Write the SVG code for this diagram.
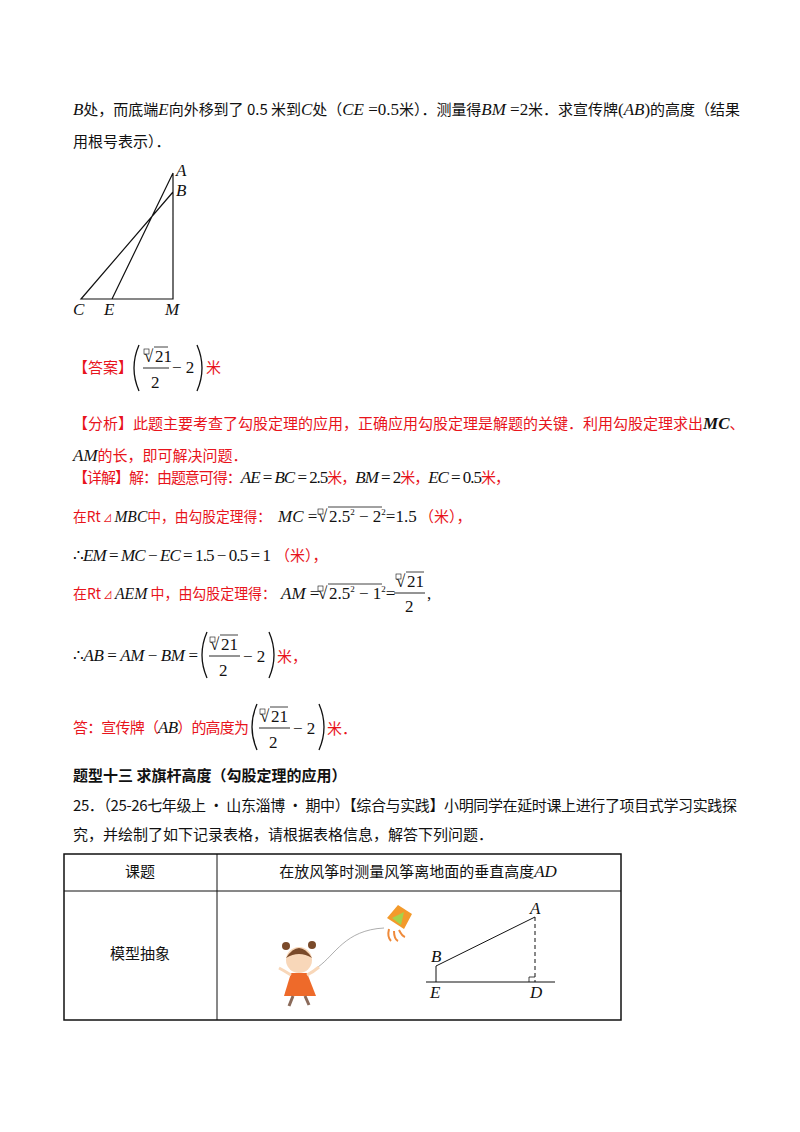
<svg xmlns="http://www.w3.org/2000/svg" width="800" height="1132" viewBox="0 0 800 1132">
<style>
text{font-family:"Liberation Serif","Noto Sans CJK SC",serif;font-size:15px;fill:#111}
.r{fill:#e8141c}
.i{font-style:italic}
.m{font-family:"Liberation Serif",serif;font-size:17px}
.ln{stroke:#111;stroke-width:1.2;fill:none}
.p{stroke:#111;stroke-width:1.3;fill:none}
.b{font-weight:bold}
.cj{font-family:"Noto Sans CJK SC",sans-serif}
</style>
<rect width="800" height="1132" fill="#fff"/>
<defs>
<g id="rad"><rect x="0" y="-13" width="5" height="5" fill="none" stroke="#111" stroke-width="0.6"/><text x="0" y="0" class="m">√</text></g>
<path id="lp" d="M7,0 Q-3,23 7,46" stroke="#111" stroke-width="1.3" fill="none"/>
<path id="rp" d="M0,0 Q10,23 0,46" stroke="#111" stroke-width="1.3" fill="none"/>
</defs>

<text x="73" y="115" textLength="667"><tspan class="i m">B</tspan><tspan class="cj">处，而底端</tspan><tspan class="i m">E</tspan><tspan class="cj">向外移到了 0.5 米到</tspan><tspan class="i m">C</tspan><tspan class="cj">处（</tspan><tspan class="i m">CE</tspan><tspan class="m"> =0.5</tspan><tspan class="cj">米）．测量得</tspan><tspan class="i m">BM</tspan><tspan class="m"> =2</tspan><tspan class="cj">米．求宣传牌</tspan><tspan class="m">(</tspan><tspan class="i m">AB</tspan><tspan class="m">)</tspan><tspan class="cj">的高度（结果</tspan></text>
<text x="73" y="147" class="cj">用根号表示）．</text>

<g id="fig1">
<path class="ln" d="M173,173 V299 H81 L173,192 M112,299 L173,173"/>
<text x="176" y="176" class="i m" font-size="15">A</text>
<text x="176" y="196" class="i m" font-size="15">B</text>
<text x="73" y="315" class="i m" font-size="15">C</text>
<text x="104" y="315" class="i m" font-size="15">E</text>
<text x="165" y="315" class="i m" font-size="15">M</text>
</g>

<g id="answer">
<text x="73" y="373" class="r cj">【答案】</text>
<use href="#lp" x="132" y="345"/>
<use href="#rad" x="144" y="362"/>
<text x="155" y="362" class="m">21</text>
<line x1="154" y1="347" x2="168" y2="347" stroke="#111" stroke-width="0.8"/>
<line x1="143" y1="368" x2="169" y2="368" stroke="#111" stroke-width="0.9"/>
<text x="151" y="388" class="m">2</text>
<text x="172" y="373" class="m">− 2</text>
<use href="#rp" x="197" y="345"/>
<text x="206" y="373" class="r cj">米</text>
</g>

<text x="73" y="429" class="r cj">【分析】此题主要考查了勾股定理的应用，正确应用勾股定理是解题的关键．利用勾股定理求出<tspan class="i m b" fill="#111">MC</tspan>、</text>
<text x="73" y="461"><tspan class="i m">AM</tspan><tspan class="r cj">的长，即可解决问题．</tspan></text>
<text x="73" y="483" textLength="437"><tspan class="r cj">【详解】解：由题意可得：</tspan><tspan class="i m">AE</tspan><tspan class="m"> = </tspan><tspan class="i m">BC</tspan><tspan class="m"> = 2.5</tspan><tspan class="r cj">米，</tspan><tspan class="i m">BM</tspan><tspan class="m"> = 2</tspan><tspan class="r cj">米，</tspan><tspan class="i m">EC</tspan><tspan class="m"> = 0.5</tspan><tspan class="r cj">米，</tspan></text>

<text x="73" y="522" textLength="198" lengthAdjust="spacingAndGlyphs"><tspan class="r cj">在Rt</tspan><tspan class="r" font-size="10"> ⊿ </tspan><tspan class="i m">MBC</tspan><tspan class="r cj">中，由勾股定理得：</tspan></text>
<text x="278" y="522"><tspan class="i m">MC</tspan><tspan class="m"> =</tspan></text>
<use href="#rad" x="318" y="522"/>
<line x1="328" y1="507" x2="382" y2="507" stroke="#111" stroke-width="0.8"/>
<text x="329" y="522" class="m">2.5<tspan font-size="9" dy="-7">2</tspan><tspan dy="7"> − 2</tspan><tspan font-size="9" dy="-7">2</tspan><tspan dy="7">=1.5</tspan></text>
<text x="419" y="522" class="r cj">（米），</text>

<text x="73" y="561" textLength="198"><tspan class="m">∴</tspan><tspan class="i m">EM</tspan><tspan class="m"> = </tspan><tspan class="i m">MC</tspan><tspan class="m"> − </tspan><tspan class="i m">EC</tspan><tspan class="m"> = 1.5 − 0.5 = 1</tspan></text>
<text x="275" y="561" class="r cj">（米），</text>

<text x="73" y="599" textLength="203" lengthAdjust="spacingAndGlyphs"><tspan class="r cj">在Rt</tspan><tspan class="r" font-size="10"> ⊿ </tspan><tspan class="i m">AEM</tspan><tspan class="r cj"> 中，由勾股定理得：</tspan></text>
<text x="281" y="599"><tspan class="i m">AM</tspan><tspan class="m"> =</tspan></text>
<use href="#rad" x="318" y="599"/>
<line x1="328" y1="584" x2="382" y2="584" stroke="#111" stroke-width="0.8"/>
<text x="329" y="599" class="m">2.5<tspan font-size="9" dy="-7">2</tspan><tspan dy="7"> − 1</tspan><tspan font-size="9" dy="-7">2</tspan><tspan dy="7">=</tspan></text>
<use href="#rad" x="396" y="587"/>
<text x="407" y="587" class="m">21</text>
<line x1="406" y1="572" x2="424" y2="572" stroke="#111" stroke-width="0.8"/>
<line x1="394" y1="593" x2="425" y2="593" stroke="#111" stroke-width="0.9"/>
<text x="405" y="612" class="m">2</text>
<text x="427" y="599" class="m">,</text>

<text x="73" y="661" textLength="125"><tspan class="m">∴</tspan><tspan class="i m">AB</tspan><tspan class="m"> = </tspan><tspan class="i m">AM</tspan><tspan class="m"> − </tspan><tspan class="i m">BM</tspan><tspan class="m"> =</tspan></text>
<use href="#lp" x="200" y="632"/>
<use href="#rad" x="210" y="650"/>
<text x="221" y="650" class="m">21</text>
<line x1="220" y1="635" x2="238" y2="635" stroke="#111" stroke-width="0.8"/>
<line x1="209" y1="656" x2="240" y2="656" stroke="#111" stroke-width="0.9"/>
<text x="219" y="676" class="m">2</text>
<text x="243" y="662" class="m">− 2</text>
<use href="#rp" x="269" y="632"/>
<text x="277" y="662" class="r cj">米，</text>

<text x="73" y="733" class="r cj" textLength="176">答：宣传牌（<tspan class="i m" fill="#111">AB</tspan>）的高度为</text>
<use href="#lp" x="250" y="704"/>
<use href="#rad" x="260" y="722"/>
<text x="271" y="722" class="m">21</text>
<line x1="270" y1="707" x2="288" y2="707" stroke="#111" stroke-width="0.8"/>
<line x1="259" y1="728" x2="290" y2="728" stroke="#111" stroke-width="0.9"/>
<text x="269" y="748" class="m">2</text>
<text x="293" y="734" class="m">− 2</text>
<use href="#rp" x="319" y="704"/>
<text x="327" y="734" class="r cj">米．</text>

<text x="73" y="781" class="cj b">题型十三 求旗杆高度（勾股定理的应用）</text>
<text x="73" y="811" class="cj" textLength="664">25．（25-26七年级上 • 山东淄博 • 期中）【综合与实践】小明同学在延时课上进行了项目式学习实践探</text>
<text x="73" y="840" class="cj">究，并绘制了如下记录表格，请根据表格信息，解答下列问题．</text>

<g id="table">
<rect x="64" y="854" width="557" height="166" fill="none" stroke="#111" stroke-width="1.5"/>
<line x1="217" y1="854" x2="217" y2="1020" stroke="#111" stroke-width="1"/>
<line x1="64" y1="891" x2="621" y2="891" stroke="#111" stroke-width="1"/>
<text x="140" y="877" text-anchor="middle" class="cj">课题</text>
<text x="418" y="877" text-anchor="middle"><tspan class="cj">在放风筝时测量风筝离地面的垂直高度</tspan><tspan class="i m">AD</tspan></text>
<text x="140" y="959" text-anchor="middle" class="cj">模型抽象</text>
</g>

<g id="girl">
<path d="M318,967 C335,955 345,930 384,928" fill="none" stroke="#999" stroke-width="0.8"/>
<polygon points="387,918 398,905 412,914 404,929" fill="#f39a2b"/>
<polygon points="392,918 404,912 401,925" fill="#a6d24a"/>
<path d="M389,929 q-2,8 2,12 M394,931 q0,8 4,10 M399,930 q3,6 6,7" stroke="#ef8a3a" stroke-width="2" fill="none"/>
<circle cx="299" cy="960" r="13" fill="#f8d7b9"/>
<path d="M286,958 q13,-20 26,0 q-13,-8 -26,0z" fill="#7a4a2a"/>
<circle cx="286" cy="946" r="4" fill="#7a4a2a"/>
<circle cx="312" cy="945" r="4" fill="#7a4a2a"/>
<path d="M291,973 L307,973 L316,996 L284,996z" fill="#ee6a2a"/>
<path d="M293,996 l-4,10 M305,996 l4,9" stroke="#8a6a5a" stroke-width="3"/>
<path d="M291,975 q-8,-5 -12,-7 M307,975 q6,-3 12,-8" stroke="#f8d7b9" stroke-width="3" fill="none"/>
</g>

<g id="fig2">
<line x1="426" y1="982" x2="555" y2="982" stroke="#111" stroke-width="1.2"/>
<line x1="436" y1="982" x2="436" y2="966" stroke="#111" stroke-width="1"/>
<line x1="436" y1="966" x2="535" y2="917" stroke="#111" stroke-width="1"/>
<line x1="535" y1="917" x2="535" y2="982" stroke="#111" stroke-width="1" stroke-dasharray="4,3"/>
<path d="M529,982 V977 H535" fill="none" stroke="#111" stroke-width="0.8"/>
<text x="530" y="914" class="i m" font-size="15">A</text>
<text x="431" y="962" class="i m" font-size="15">B</text>
<text x="430" y="998" class="i m" font-size="15">E</text>
<text x="530" y="998" class="i m" font-size="15">D</text>
</g>
</svg>
